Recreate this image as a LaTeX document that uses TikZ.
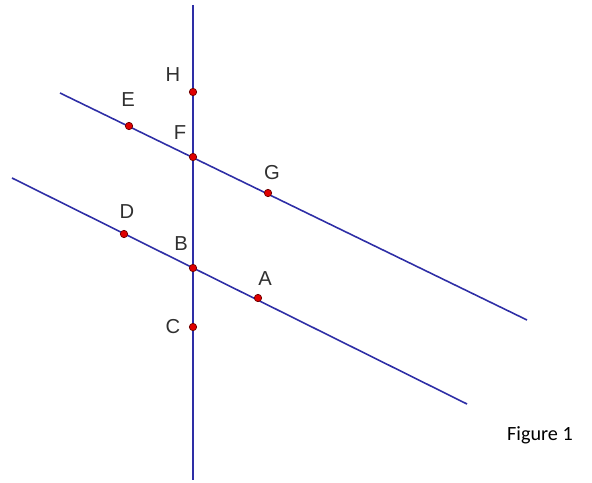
\documentclass[tikz,border=0pt]{standalone}
\usepackage{fontspec}
\setsansfont{Liberation Sans}
\newfontfamily\captionfont{Carlito}
\definecolor{lineblue}{HTML}{2E2EA6}
\definecolor{ptred}{HTML}{E00000}
\definecolor{ptrim}{HTML}{700000}
\definecolor{labelgray}{HTML}{303030}

\begin{document}
\begin{tikzpicture}[x=0.02cm,y=-0.02cm,font=\sffamily]
 \tikzstyle{linestyle}=[draw=lineblue,line width=0.9pt]
 \tikzstyle{pt}=[circle,fill=ptred,draw=ptrim,line width=0.4pt,inner sep=0pt,minimum size=4.2pt]
 \tikzstyle{lbl}=[font=\sffamily\fontsize{11.5}{13}\selectfont,text=labelgray,inner sep=0pt]
 \useasboundingbox (0,0) rectangle (592,483);
 % ends of the lines
 \coordinate (vtop) at (193,5);
 \coordinate (vbot) at (193,480);
 \coordinate (upL) at (60,93);
 \coordinate (upR) at (527,320);
 \coordinate (loL) at (12,178);
 \coordinate (loR) at (467,404);
 \draw[linestyle,line width=1.1pt] (vtop) -- (vbot);
 \draw[linestyle] (upL) -- (upR);
 \draw[linestyle] (loL) -- (loR);
 % points
 \node[pt] (H) at (193,92) {};
 \node[pt] (E) at (129,126) {};
 \node[pt] (F) at (193,157) {};
 \node[pt] (G) at (268,193) {};
 \node[pt] (D) at (124,234) {};
 \node[pt] (B) at (193,268) {};
 \node[pt] (A) at (258,298) {};
 \node[pt] (C) at (193,327) {};
 % labels
 \node[lbl] (Hl) at (173,75) {H};
 \node[lbl] (El) at (128,100) {E};
 \node[lbl] (Fl) at (180,133) {F};
 \node[lbl] (Gl) at (272,173) {G};
 \node[lbl] (Dl) at (127,212) {D};
 \node[lbl] (Bl) at (181,244) {B};
 \node[lbl] (Al) at (265,279) {A};
 \node[lbl] (Cl) at (173,327) {C};
 \node[font=\captionfont\fontsize{11.5}{13}\selectfont,text=black,inner sep=0pt] (fig) at (540,435) {Figure 1};
\end{tikzpicture}
\end{document}
